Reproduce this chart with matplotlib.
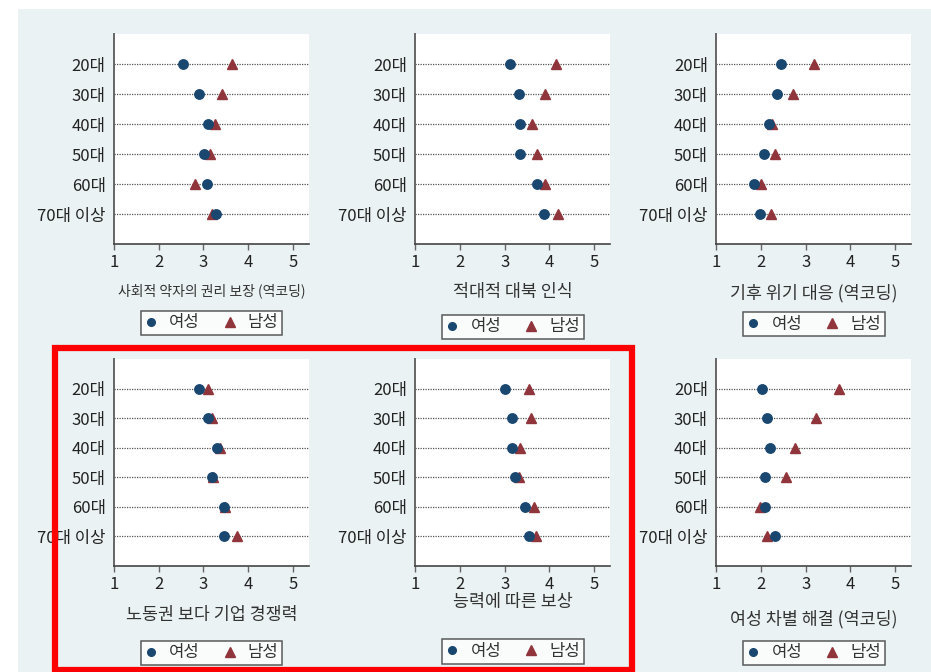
import matplotlib.pyplot as plt
from matplotlib.lines import Line2D
from matplotlib.patches import Rectangle

plt.rcParams["font.family"] = ["Noto Sans CJK KR", "DejaVu Sans"]

AGES = ["20대", "30대", "40대", "50대", "60대", "70대 이상"]
TITLES = [
    "사회적 약자의 권리 보장 (역코딩)",
    "적대적 대북 인식",
    "기후 위기 대응 (역코딩)",
    "노동권 보다 기업 경쟁력",
    "능력에 따른 보상",
    "여성 차별 해결 (역코딩)",
]
FEMALE = [
    [2.54, 2.90, 3.11, 3.01, 3.07, 3.29],
    [3.12, 3.31, 3.33, 3.34, 3.73, 3.87],
    [2.44, 2.36, 2.17, 2.06, 1.84, 1.98],
    [2.90, 3.10, 3.30, 3.19, 3.46, 3.47],
    [3.01, 3.16, 3.17, 3.22, 3.45, 3.54],
    [2.02, 2.14, 2.19, 2.08, 2.10, 2.31],
]
MALE = [
    [3.64, 3.42, 3.25, 3.14, 2.82, 3.19],
    [4.14, 3.91, 3.60, 3.71, 3.91, 4.19],
    [3.19, 2.71, 2.25, 2.32, 2.01, 2.22],
    [3.10, 3.19, 3.37, 3.22, 3.48, 3.76],
    [3.55, 3.59, 3.34, 3.31, 3.66, 3.70],
    [3.74, 3.22, 2.77, 2.56, 1.98, 2.13],
]
LEGEND_LABELS = ["여성", "남성"]

NAVY = "#1a476f"
MAROON = "#90353b"
BG = "#eaf2f3"

W, H = 931, 672
COL_X = [114, 415.3, 716.3]
AX_W = 195
ROW_TOP = [34, 359.3]
ROW_BOT = [244, 566]
# pixel positions (from top) of x label centre and legend centre per panel
XLABEL_Y = [291, 292, 293, 615, 601.5, 619]
LEGEND_Y = [323, 327, 324, 653, 651.5, 653]

fig = plt.figure(figsize=(W / 100, H / 100), dpi=100)
fig.patch.set_facecolor("white")
fig.add_artist(Rectangle((17.5 / W, 0), 1 - 17.5 / W, 1 - 9 / H,
                         transform=fig.transFigure, facecolor=BG, edgecolor="none", zorder=0))

ypos = list(range(1, len(AGES) + 1))

for i, title in enumerate(TITLES):
    r, c = divmod(i, 3)
    top, bot = ROW_TOP[r], ROW_BOT[r]
    hpx = bot - top
    ax = fig.add_axes([COL_X[c] / W, (H - bot) / H, AX_W / W, hpx / H])
    ax.set_facecolor("white")
    for y in ypos:
        ax.plot([1, 5.36], [y, y], color="#555555", lw=0.9, ls=(0, (1, 1)), zorder=1)
    ax.plot(MALE[i], ypos, ls="none", marker="^", ms=7, color=MAROON, zorder=3)
    ax.plot(FEMALE[i], ypos, ls="none", marker="o", ms=6.8, color=NAVY, zorder=4)

    ax.set_xlim(1, 5.36)
    ax.set_ylim(7, 0)
    ax.set_xticks([1, 2, 3, 4, 5])
    ax.set_yticks(ypos)
    ax.set_yticklabels(AGES)
    for side in ("top", "right"):
        ax.spines[side].set_visible(False)
    ax.spines["left"].set_color("#666666")
    ax.spines["left"].set_linewidth(1.4)
    ax.spines["bottom"].set_color("#444444")
    ax.spines["bottom"].set_linewidth(1.2)
    ax.tick_params(axis="y", length=0, pad=6, labelsize=12, labelcolor="#222222")
    ax.tick_params(axis="x", length=4, width=1, color="#666666", pad=3,
                   labelsize=12, labelcolor="#222222")

    fs = 10 if i == 0 else 12.5
    ax.text(0.5, (bot - XLABEL_Y[i]) / hpx, title, transform=ax.transAxes,
            ha="center", va="center", fontsize=fs, color="#333333")

    handles = [
        Line2D([], [], ls="none", marker="o", ms=5.5, color=NAVY),
        Line2D([], [], ls="none", marker="^", ms=6.5, color=MAROON),
    ]
    leg = ax.legend(handles, LEGEND_LABELS, loc="center",
                    bbox_to_anchor=(0.5, (bot - LEGEND_Y[i]) / hpx),
                    ncol=2, fontsize=12, frameon=True, fancybox=False,
                    handlelength=0.8, handletextpad=0.68, columnspacing=1.4,
                    borderpad=0.22, borderaxespad=0)
    leg.get_frame().set_edgecolor("#333333")
    leg.get_frame().set_linewidth(1.1)
    for t in leg.get_texts():
        t.set_color("#333333")

# red highlight box around the two lower-left panels
fig.add_artist(Rectangle((55 / W, (H - 669.5) / H), (631.5 - 55) / W, (669.5 - 347.5) / H,
                         transform=fig.transFigure, fill=False, edgecolor="#ff0000",
                         lw=4.5, zorder=10))

fig.savefig("out.png", dpi=100, facecolor=fig.get_facecolor())
